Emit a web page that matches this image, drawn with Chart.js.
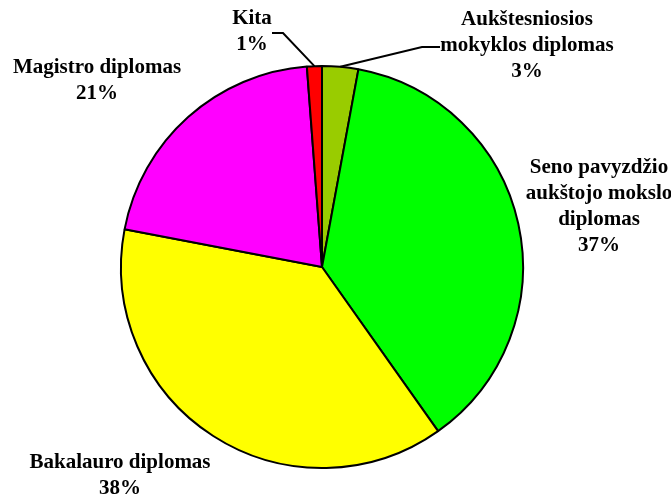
<!DOCTYPE html>
<html>
<head>
<meta charset="utf-8">
<script src="https://cdn.jsdelivr.net/npm/chart.js@4/dist/chart.umd.min.js"></script>
<style>
  html, body { margin: 0; padding: 0; background: #fff; }
  #wrap { width: 671px; height: 497px; }
</style>
</head>
<body>
<div id="wrap"><canvas id="grafico" width="671" height="497"></canvas></div>
<script>
// Datos del gráfico (porcentajes)
const categorias = [
    'Aukštesniosios mokyklos diplomas',
    'Seno pavyzdžio aukštojo mokslo diplomas',
    'Bakalauro diplomas',
    'Magistro diplomas',
    'Kita'
];
const valores = [2.9, 37.3, 37.8, 20.8, 1.2];
const colores = ['#99CC00', '#00FF00', '#FFFF00', '#FF00FF', '#FF0000'];

// Etiquetas en varias líneas, como en el original
const lineasEtiqueta = [
    ['Aukštesniosios', 'mokyklos diplomas'],
    ['Seno pavyzdžio', 'aukštojo mokslo', 'diplomas'],
    ['Bakalauro diplomas'],
    ['Magistro diplomas'],
    ['Kita']
];

const FUENTE = 'bold 21px "Liberation Serif", "Times New Roman", serif';
const ALTO_LINEA = 26;

// Plugin para dibujar las etiquetas y las líneas guía
const etiquetasPlugin = {
    id: 'etiquetas',
    afterDatasetsDraw(chart) {
        const ctx = chart.ctx;
        const meta = chart.getDatasetMeta(0);
        const total = valores.reduce((a, b) => a + b, 0);
        const arco0 = meta.data[0];
        const cx = arco0.x, cy = arco0.y, r = arco0.outerRadius;

        // posición del texto relativa al centro (centro del bloque de texto)
        const posiciones = [
            { x: cx + 205, y: cy - 221 },
            { x: cx + 277, y: cy - 60 },
            { x: cx - 202, y: cy + 209 },
            { x: cx - 225, y: cy - 186 },
            { x: cx - 70, y: cy - 235 }
        ];

        ctx.save();
        ctx.font = FUENTE;
        ctx.fillStyle = '#000';
        ctx.textAlign = 'center';
        ctx.textBaseline = 'middle';

        meta.data.forEach((arco, i) => {
            const lineas = lineasEtiqueta[i].concat([Math.round(valores[i] / total * 100) + '%']);
            const p = posiciones[i];
            const y0 = p.y - (lineas.length - 1) * ALTO_LINEA / 2;
            lineas.forEach((t, k) => ctx.fillText(t, p.x, y0 + k * ALTO_LINEA));
        });

        // líneas guía para las porciones pequeñas
        ctx.strokeStyle = '#000';
        ctx.lineWidth = 2;
        const puntoBorde = (i) => {
            const a = meta.data[i];
            const ang = (a.startAngle + a.endAngle) / 2;
            return { x: cx + Math.cos(ang) * r, y: cy + Math.sin(ang) * r };
        };
        // Aukštesniosios
        let b = puntoBorde(0);
        ctx.beginPath();
        ctx.moveTo(b.x, b.y);
        ctx.lineTo(cx + 100, cy - 220);
        ctx.lineTo(cx + 118, cy - 220);
        ctx.stroke();
        // Kita
        b = puntoBorde(4);
        ctx.beginPath();
        ctx.moveTo(b.x, b.y);
        ctx.lineTo(cx - 39, cy - 234);
        ctx.lineTo(cx - 50, cy - 234);
        ctx.stroke();
        ctx.restore();
    }
};

const ctx = document.getElementById('grafico').getContext('2d');
new Chart(ctx, {
    type: 'pie',
    data: {
        labels: categorias,
        datasets: [{
            data: valores,
            backgroundColor: colores,
            borderColor: '#000',
            borderWidth: 2
        }]
    },
    options: {
        responsive: false,
        animation: false,
        layout: {
            padding: { top: 65, bottom: 28, left: 120, right: 147 }
        },
        plugins: {
            legend: { display: false },
            tooltip: { enabled: false }
        }
    },
    plugins: [etiquetasPlugin]
});
</script>
</body>
</html>
